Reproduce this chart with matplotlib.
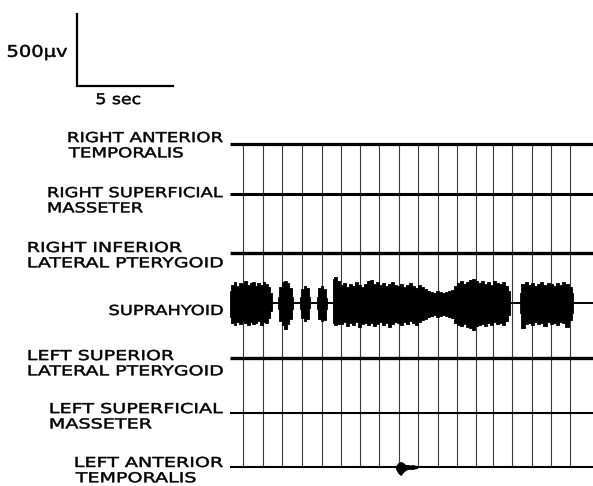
import numpy as np
import matplotlib.pyplot as plt
import matplotlib.transforms as mtransforms
from matplotlib.textpath import TextPath
from matplotlib.patches import PathPatch
from matplotlib.font_manager import FontProperties

# EMG channels, top to bottom
channels = [
    'RIGHT ANTERIOR\nTEMPORALIS',
    'RIGHT SUPERFICIAL\nMASSETER',
    'RIGHT INFERIOR\nLATERAL PTERYGOID',
    'SUPRAHYOID',
    'LEFT SUPERIOR\nLATERAL PTERYGOID',
    'LEFT SUPERFICIAL\nMASSETER',
    'LEFT ANTERIOR\nTEMPORALIS',
]

# timing marks (sec)
time_marks = [0.7, 1.7, 2.72, 3.73, 4.78, 5.77, 6.77, 7.78, 8.8, 9.81,
              10.82, 11.8, 12.8, 13.7, 14.7, 15.74, 16.72, 17.71]

# suprahyoid bursts: start / end (sec), envelope above and below baseline (uV)
sh_start = [0.0, 2.5, 3.65, 4.53, 5.36, 15.1]
sh_end = [2.17, 3.28, 4.17, 5.05, 14.58, 17.88]
sh_up = [
    [83, 125, 146, 118, 139, 132, 153, 125, 139, 146, 118, 139, 125, 146, 132, 111, 69],
    [42, 111, 146, 153, 139, 104, 42],
    [42, 97, 118, 104, 42],
    [42, 104, 118, 97, 35],
    [168, 182, 154, 126, 140, 112, 133, 119, 147, 126, 112, 133, 154, 161, 133, 147,
     126, 140, 119, 133, 147, 126, 119, 133, 112, 126, 140, 119, 105, 126, 112, 98,
     84, 77, 70, 84, 77, 70, 77, 84, 91, 119, 140, 154, 133, 147, 161, 165, 150, 140,
     155, 133, 147, 126, 150, 140, 133, 147, 119, 84],
    [70, 133, 147, 126, 140, 119, 133, 147, 126, 140, 133, 119, 140, 126, 147, 133, 112, 70],
]
sh_down = [
    [97, 139, 153, 132, 146, 125, 139, 153, 132, 146, 139, 125, 153, 132, 139, 104, 56],
    [42, 125, 153, 180, 146, 111, 42],
    [42, 104, 125, 111, 35],
    [42, 111, 125, 118, 42],
    [140, 154, 147, 147, 133, 161, 140, 154, 133, 168, 147, 140, 154, 140, 161, 147,
     133, 154, 140, 168, 147, 133, 140, 154, 133, 147, 126, 140, 154, 133, 119, 112,
     98, 91, 84, 98, 91, 84, 91, 98, 105, 140, 154, 160, 147, 165, 172, 190, 160, 150,
     147, 158, 140, 154, 133, 147, 140, 154, 126, 84],
    [70, 175, 147, 140, 154, 133, 147, 140, 161, 133, 147, 140, 154, 133, 140, 168, 119, 70],
]

# small burst on left anterior temporalis
lat_start, lat_end = 8.65, 9.75
lat_up = [7, 28, 35, 28, 14, 14, 10, 14, 10, 7]
lat_down = [14, 42, 56, 35, 21, 14, 14, 14, 10, 7]

# layout
offsets = [2373, 2026, 1617, 1270, 888, 506, 132]   # baseline of each channel (uV)
widths = [2.3, 2.2, 2.4, 1.4, 2.4, 1.5, 1.5]
label_dy = [14, -21, 7, -83, -14, 0, 0]              # first-line baseline vs trace (uV)
label_w = [154, 174, 194, 113, 194, 172, 147]        # label block widths (px)
line_step = 106                                      # label line pitch (uV)
label_right = -0.38
t_end = 18.91

fig = plt.figure(figsize=(5.93, 4.86), dpi=100)
ax = fig.add_axes([0, 0, 1, 1])
ax.set_xlim(-11.98, t_end)
ax.set_ylim(0, 3373)
ax.axis('off')

# lettering: wide sans, drawn as stretched glyph paths
fp = FontProperties(family='DejaVu Sans')
CAP = TextPath((0, 0), 'H', size=1, prop=fp).get_extents().height


def glyphs(s):
    p = TextPath((0, 0), s, size=1, prop=fp)
    return p, p.get_extents()


def put(path, x_disp, y_disp, k, sx):
    tr = mtransforms.Affine2D().scale(k * sx, k).translate(x_disp, y_disp)
    ax.add_patch(PathPatch(path, transform=tr, fc='black', ec='black', lw=0.35))


def label(text, x_right, y_base, width_px, cap=10.0):
    k = cap / CAP
    gl = [glyphs(s) for s in text.split('\n')]
    wmax = max(ext.width for _, ext in gl)
    sx = width_px / (wmax * k)
    X, Y = ax.transData.transform((x_right, y_base))
    pitch = Y - ax.transData.transform((x_right, y_base - line_step))[1]
    for i, (p, ext) in enumerate(gl):
        put(p, X - width_px - ext.x0 * k * sx, Y - i * pitch, k, sx)


# timing marks
ax.vlines(time_marks, offsets[-1], offsets[0], color='#3a3a3a', lw=0.8, zorder=1)

# baselines + labels
for name, y0, lw, dy, w in zip(channels, offsets, widths, label_dy, label_w):
    ax.plot([0, t_end], [y0, y0], color='black', lw=lw, solid_capstyle='butt', zorder=2)
    label(name, label_right, y0 + dy, w)

# suprahyoid activity
y_sh = offsets[3]
for t0, t1, up, dn in zip(sh_start, sh_end, sh_up, sh_down):
    t = np.linspace(t0, t1, len(up))
    ax.fill_between(t, y_sh + np.array(up), y_sh - np.array(dn), step='mid',
                    color='black', lw=0.6, zorder=3)

# left anterior temporalis burst
t = np.linspace(lat_start, lat_end, len(lat_up))
ax.fill_between(t, offsets[6] + np.array(lat_up), offsets[6] - np.array(lat_down),
                color='black', lw=0.6, zorder=3)

# calibration bar
bx, by = -7.97, 2776
ax.plot([bx, bx, bx + 5], [by + 500, by, by], color='black', lw=1.6,
        solid_joinstyle='miter', zorder=2)
label('500μv', bx - 0.52, by + 203, 59, cap=11.7)
label('5 sec', bx + 1.03 + 43.3 / 19.2, by - 125, 43.3, cap=10.7)

fig.savefig('out.png', dpi=100)
plt.close(fig)
